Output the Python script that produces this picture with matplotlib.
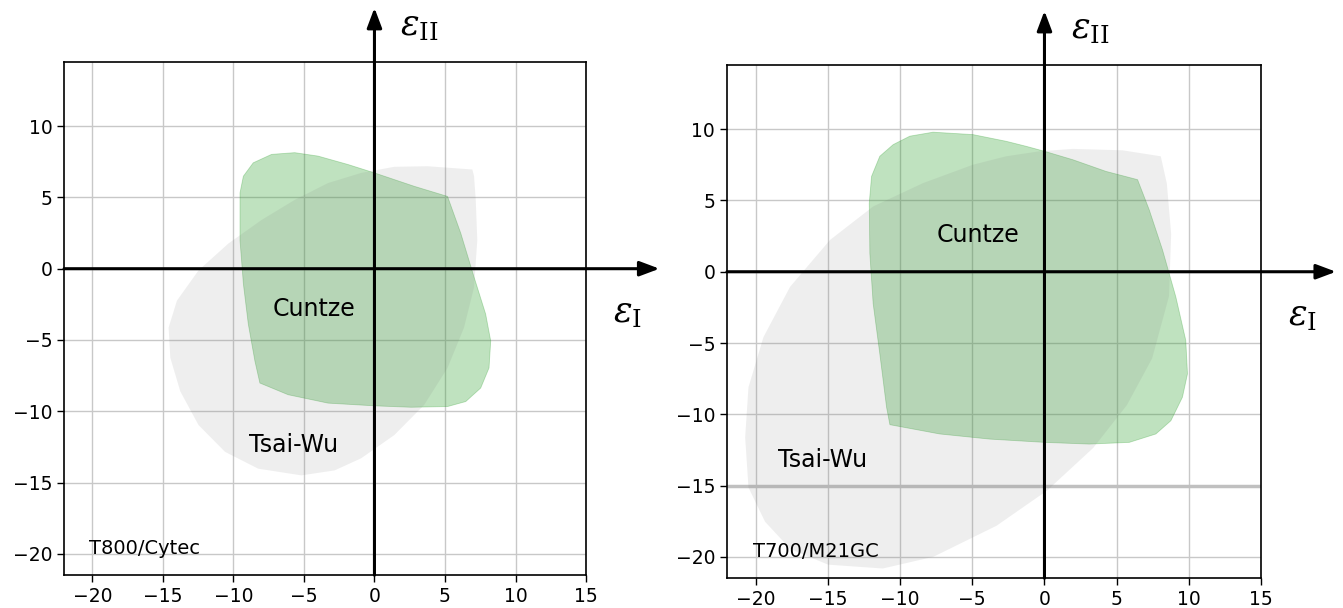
import matplotlib.pyplot as plt
from matplotlib.patches import Polygon

# Failure envelopes (strain units)
cuntze_t800_x = [-9.53, -9.29, -8.59, -7.29, -5.65, -4.0, -1.88, 0.0, 2.82, 5.18, 6.12, 7.06,
                 7.88, 8.24, 8.12, 7.53, 6.47, 5.18, 2.59, 0.0, -3.29, -6.12, -8.12, -8.47,
                 -8.94, -9.29, -9.53]
cuntze_t800_y = [5.31, 6.49, 7.43, 8.02, 8.14, 7.9, 7.31, 6.72, 5.78, 5.07, 2.48, -0.59,
                 -3.18, -5.07, -6.96, -8.37, -9.32, -9.67, -9.72, -9.62, -9.43, -8.84, -8.02, -6.49,
                 -3.89, -1.06, 2.0]
tsaiwu_t800_x = [6.94, 3.76, 1.41, -0.94, -3.29, -5.65, -8.0, -10.35, -12.47, -14.0, -14.59,
                 -14.47, -13.76, -12.47, -10.59, -8.24, -5.18, -2.82, -0.94, 1.41, 3.53,
                 5.18, 6.35, 7.06, 7.29, 7.18, 7.06]
tsaiwu_t800_y = [6.96, 7.19, 7.15, 6.72, 6.01, 4.83, 3.42, 1.77, -0.12, -2.24, -4.13,
                 -6.25, -8.61, -10.97, -12.85, -14.03, -14.5, -14.15, -13.3, -11.67, -9.55,
                 -6.96, -4.13, -1.3, 2.0, 4.83, 6.49]

cuntze_t700_x = [-12.1, -12.14, -11.98, -11.41, -10.48, -9.33, -7.72, -4.95, -2.65, -1.27,
                 0.0, 1.96, 4.26, 6.45, 7.26, 8.18, 9.1, 9.79, 9.91, 9.56, 8.76, 7.72, 5.88,
                 3.11, 0.0, -3.8, -7.26, -10.71, -10.94, -11.41, -11.87]
cuntze_t700_y = [1.29, 4.81, 6.69, 8.1, 8.92, 9.51, 9.79, 9.62, 9.15, 8.8,
                 8.45, 7.86, 7.04, 6.46, 4.34, 1.53, -1.76, -4.81, -7.16, -8.8, -10.45, -11.38, -11.97,
                 -12.09, -11.97, -11.74, -11.38, -10.73, -9.51, -5.75, -2.23]
tsaiwu_t700_x = [8.06, 5.41, 1.96, -0.35, -2.65, -4.95, -8.41, -11.87, -14.86, -17.63, -19.47,
                 -20.51, -20.74, -20.51, -19.36, -17.61, -14.99, -11.2, -7.7, -3.32, 0.17,
                 3.38, 5.71, 7.46, 8.63, 8.78, 8.48]
tsaiwu_t700_y = [8.1, 8.52, 8.62, 8.45, 8.1, 7.51, 6.22, 4.58, 2.23, -1.06, -4.58,
                 -8.1, -11.62, -15.14, -17.54, -19.45, -20.55, -20.82, -20.0, -17.82, -15.36,
                 -12.36, -9.36, -6.08, -1.72, 2.65, 6.19]

ticks_x = [-20, -15, -10, -5, 0, 5, 10, 15]
ticks_y = [-20, -15, -10, -5, 0, 5, 10]

GREEN = "#2ca02c"
GRAY = "#808080"


def draw_panel(ax, cuntze, tsaiwu, material, cuntze_pos, tsaiwu_pos, thick_grid=None):
    ax.set_xlim(-22, 15)
    ax.set_ylim(-21.5, 14.5)
    ax.set_xticks(ticks_x)
    ax.set_yticks(ticks_y)
    ax.tick_params(labelsize=13.5, length=5, width=1)
    ax.grid(True, color="#c8c8c8", linewidth=1.0)
    ax.set_axisbelow(True)
    for s in ax.spines.values():
        s.set_linewidth(1.2)

    ax.add_patch(Polygon(list(zip(*cuntze)), closed=True, facecolor=GREEN, alpha=0.3,
                         edgecolor=GREEN, linewidth=0.6, zorder=2))
    ax.add_patch(Polygon(list(zip(*tsaiwu)), closed=True, facecolor=GRAY, alpha=0.13,
                         edgecolor="none", zorder=3))

    if thick_grid is not None:
        ax.axhline(thick_grid, color="#c0c0c0", linewidth=2.5, zorder=1)

    # Coordinate axes with arrows
    ax.annotate("", xy=(20.2, 0), xytext=(-22, 0), annotation_clip=False,
                arrowprops=dict(arrowstyle="-|>,head_length=1.2,head_width=0.45",
                                color="black", lw=2.2, shrinkA=0, shrinkB=0), zorder=5)
    ax.annotate("", xy=(0, 18.3), xytext=(0, -21.5), annotation_clip=False,
                arrowprops=dict(arrowstyle="-|>,head_length=1.2,head_width=0.45",
                                color="black", lw=2.2, shrinkA=0, shrinkB=0), zorder=5)

    ax.text(3.2, 17.0, r"$\varepsilon_{\mathrm{II}}$", fontsize=25, ha="center", va="center",
            clip_on=False, math_fontfamily="dejavuserif")
    ax.text(17.9, -3.1, r"$\varepsilon_{\mathrm{I}}$", fontsize=25, ha="center", va="center",
            clip_on=False, math_fontfamily="dejavuserif")

    ax.text(*cuntze_pos, "Cuntze", fontsize=17, ha="center", va="center", zorder=6)
    ax.text(*tsaiwu_pos, "Tsai-Wu", fontsize=17, ha="center", va="center", zorder=6)
    ax.text(-20.2, -19.6, material, fontsize=14, ha="left", va="center", zorder=6)


fig = plt.figure(figsize=(13.43, 6.08), dpi=100)
ax1 = fig.add_axes([0.0477, 0.054, 0.3887, 0.844])
ax2 = fig.add_axes([0.5413, 0.049, 0.3976, 0.844])

draw_panel(ax1, (cuntze_t800_x, cuntze_t800_y), (tsaiwu_t800_x, tsaiwu_t800_y),
           "T800/Cytec", (-4.3, -2.8), (-5.7, -12.4))
draw_panel(ax2, (cuntze_t700_x, cuntze_t700_y), (tsaiwu_t700_x, tsaiwu_t700_y),
           "T700/M21GC", (-4.6, 2.6), (-15.4, -13.2), thick_grid=-15)

fig.savefig("out.png", dpi=100)
